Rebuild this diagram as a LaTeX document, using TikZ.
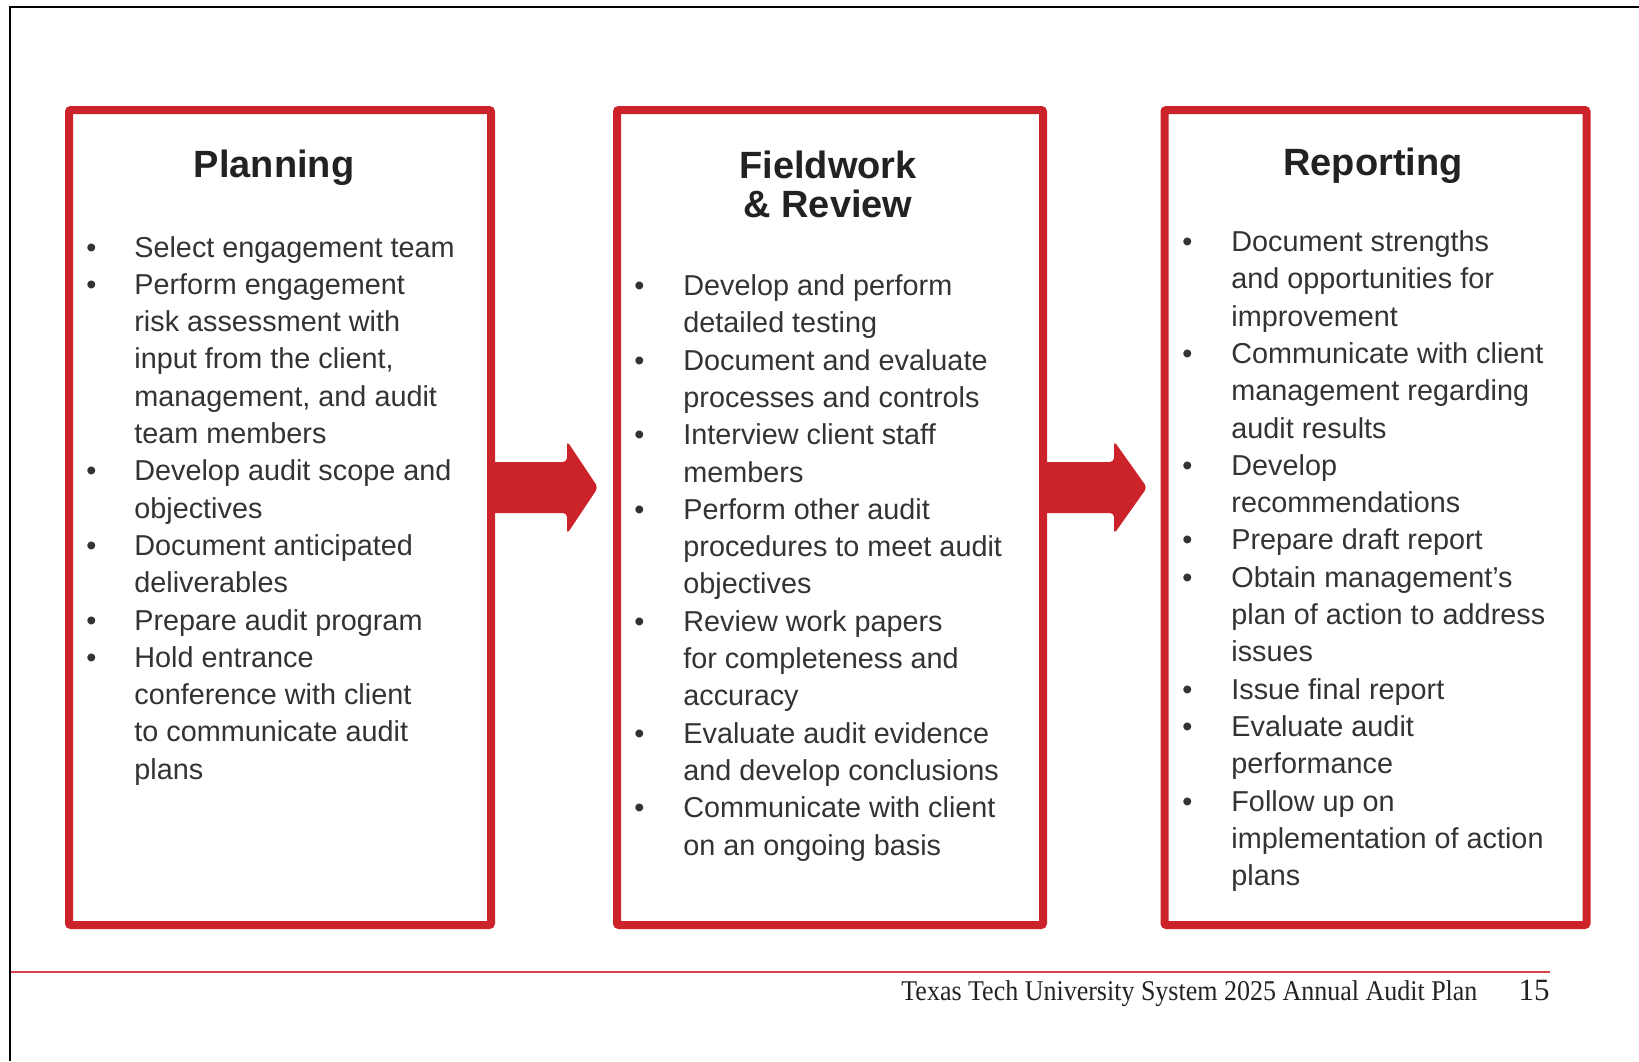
\documentclass[tikz,border=0pt]{standalone}
\usepackage{fontspec}
\setmainfont{Liberation Sans}
\newfontfamily\footerfont{Liberation Serif}
\usepackage{graphicx}
\usetikzlibrary{calc}

\definecolor{ttured}{HTML}{CC2229}
\definecolor{bodygray}{HTML}{333333}
\definecolor{titlegray}{HTML}{222222}

\tikzset{
  stagebox/.style={draw=ttured, line width=4pt, rounded corners=1pt,
    minimum width=211pt, minimum height=407.5pt, inner sep=0pt, outer sep=0pt},
  stagetitle/.style={font=\bfseries\fontsize{19}{19.5}\selectfont,
    text=titlegray, align=center, anchor=base},
  stagelist/.style={font=\fontsize{14.4}{18.65}\selectfont,
    text=bodygray, anchor=base west, inner sep=0pt},
  stagearrow/.style={fill=ttured, rounded corners=2pt},
}
\newcommand{\itemrow}[1]{\textbullet & #1\\}
\newcommand{\controw}[1]{& #1\\}

\begin{document}
\begin{tikzpicture}[x=0.5pt,y=-0.5pt]
\useasboundingbox (0,0) rectangle (1639,1061);

% page frame
\draw[line width=1pt] (10,1061) -- (10,7) -- (1639,7);

% the three stages
\node[stagebox] (plan) at (280,517.5) {};
\node[stagebox, minimum width=213pt] (field) at (830,517.5) {};
\node[stagebox] (report) at (1375.5,517.5) {};

\node[stagetitle] (plantitle) at (274,177) {Planning};
\node[stagetitle] (fieldtitle) at (828,217) {Fieldwork\\\& Review};
\node[stagetitle] (reporttitle) at (1373,175) {Reporting};

% arrows between stages
\fill[stagearrow] ([yshift=27.75pt]plan.east) -- ++(76,0) -- ++(0,-21)
  -- ++(31,46.5) -- ++(-31,46.5) -- ++(0,-21) -- ++(-76,0) -- cycle;
\fill[stagearrow] ([yshift=27.75pt]field.east) -- ++(71,0) -- ++(0,-21)
  -- ++(33,46.5) -- ++(-33,46.5) -- ++(0,-21) -- ++(-71,0) -- cycle;

% task lists
\node[stagelist] (planlist) at (86,257) {%
\begin{tabular}[t]{@{}p{24pt}@{}l@{}}
\itemrow{Select engagement team}
\itemrow{Perform engagement}
\controw{risk assessment with}
\controw{input from the client,}
\controw{management, and audit}
\controw{team members}
\itemrow{Develop audit scope and}
\controw{objectives}
\itemrow{Document anticipated}
\controw{deliverables}
\itemrow{Prepare audit program}
\itemrow{Hold entrance}
\controw{conference with client}
\controw{to communicate audit}
\controw{plans}
\end{tabular}};

\node[stagelist] (fieldlist) at (634,295.5) {%
\begin{tabular}[t]{@{}p{24.5pt}@{}l@{}}
\itemrow{Develop and perform}
\controw{detailed testing}
\itemrow{Document and evaluate}
\controw{processes and controls}
\itemrow{Interview client staff}
\controw{members}
\itemrow{Perform other audit}
\controw{procedures to meet audit}
\controw{objectives}
\itemrow{Review work papers}
\controw{for completeness and}
\controw{accuracy}
\itemrow{Evaluate audit evidence}
\controw{and develop conclusions}
\itemrow{Communicate with client}
\controw{on an ongoing basis}
\end{tabular}};

\node[stagelist] (reportlist) at (1182,251.5) {%
\begin{tabular}[t]{@{}p{24.5pt}@{}l@{}}
\itemrow{Document strengths}
\controw{and opportunities for}
\controw{improvement}
\itemrow{Communicate with client}
\controw{management regarding}
\controw{audit results}
\itemrow{Develop}
\controw{recommendations}
\itemrow{Prepare draft report}
\itemrow{Obtain management’s}
\controw{plan of action to address}
\controw{issues}
\itemrow{Issue final report}
\itemrow{Evaluate audit}
\controw{performance}
\itemrow{Follow up on}
\controw{implementation of action}
\controw{plans}
\end{tabular}};

% footer
\draw[ttured!85!white, line width=1pt] (11,972) -- (1550,972);
\node[anchor=base west, inner sep=0pt, text=titlegray,
  font=\footerfont\fontsize{14.3}{16}\selectfont] (footertext) at (901,1000)
  {\resizebox{288pt}{\height}{Texas Tech University System 2025 Annual Audit Plan}};
\node[anchor=base east, inner sep=0pt, text=titlegray,
  font=\footerfont\fontsize{15.5}{17}\selectfont] (pagenum) at (1550,1000) {15};

\end{tikzpicture}
\end{document}
